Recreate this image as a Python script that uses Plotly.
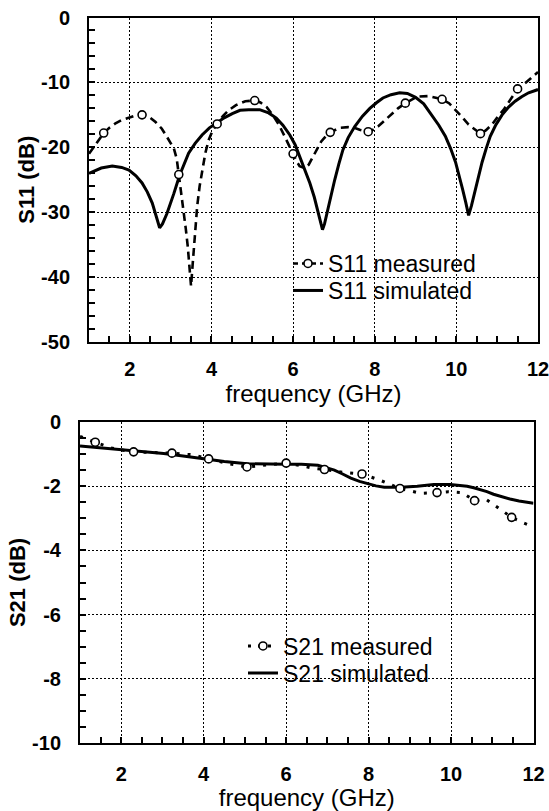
import plotly.graph_objects as go

# ---------------- data ----------------
# S11 simulated
s11_sim_f = [1.0, 1.3, 1.57, 1.8, 1.98, 2.15, 2.30, 2.43, 2.55, 2.65, 2.73, 2.80, 2.91, 3.08, 3.22,
             3.44, 3.6, 3.77, 3.95, 4.14, 4.3, 4.51, 4.7, 4.91, 5.18, 5.4, 5.59, 5.75, 5.92, 6.05,
             6.16, 6.29, 6.41, 6.52, 6.61, 6.68, 6.72, 6.77, 6.83, 6.92, 7.02, 7.12, 7.22, 7.35,
             7.51, 7.7, 7.88, 8.05, 8.20, 8.4, 8.61, 8.8, 9.0, 9.2, 9.40, 9.57, 9.73, 9.86, 9.98,
             10.07, 10.15, 10.23, 10.30, 10.37, 10.45, 10.54, 10.63, 10.73, 10.83, 10.97, 11.12,
             11.28, 11.44, 11.6, 11.77, 12.0]
s11_sim_db = [-24.0, -23.2, -22.9, -23.1, -23.5, -24.4, -25.5, -26.9, -28.6, -30.8, -32.4, -31.8,
              -30.2, -27.1, -24.3, -20.9, -19.4, -18.1, -17.0, -16.2, -15.5, -14.8, -14.3, -14.2,
              -14.2, -14.7, -15.5, -16.6, -18.1, -19.6, -21.4, -23.4, -25.5, -27.7, -30.1, -32.0,
              -32.7, -31.8, -30.1, -27.6, -25.0, -22.6, -20.4, -18.5, -16.8, -15.2, -14.0, -13.1,
              -12.4, -11.9, -11.6, -11.7, -12.3, -13.3, -15.0, -16.6, -18.3, -20.2, -22.3, -24.3,
              -26.4, -28.5, -30.5, -29.0, -26.9, -24.6, -22.3, -20.2, -18.3, -16.5, -15.0, -13.8,
              -12.9, -12.2, -11.6, -11.1]

# S11 measured (curve)
s11_meas_f = [1.0, 1.12, 1.24, 1.36, 1.5, 1.65, 1.8, 1.98, 2.15, 2.30, 2.47, 2.63, 2.78, 2.91, 3.0,
              3.08, 3.15, 3.20, 3.26, 3.32, 3.37, 3.42, 3.46, 3.50, 3.54, 3.57, 3.61, 3.65, 3.71,
              3.77, 3.85, 3.93, 4.03, 4.14, 4.28, 4.42, 4.6, 4.83, 5.06, 5.2, 5.35, 5.5, 5.65, 5.8,
              5.9, 6.0, 6.08, 6.16, 6.29, 6.38, 6.49, 6.59, 6.69, 6.80, 6.91, 7.14, 7.35, 7.50,
              7.63, 7.84, 7.96, 8.08, 8.2, 8.33, 8.45, 8.57, 8.75, 9.04, 9.32, 9.65, 9.82, 9.98,
              10.15, 10.30, 10.45, 10.59, 10.72, 10.87, 11.0, 11.16, 11.33, 11.50, 11.69, 11.85, 12.0]
s11_meas_db = [-21.0, -19.9, -18.9, -17.8, -17.0, -16.3, -15.8, -15.4, -15.1, -15.0, -15.3, -16.1,
               -17.1, -18.4, -19.3, -20.2, -21.8, -24.2, -26.8, -29.6, -32.5, -35.3, -38.0, -41.4,
               -38.0, -35.3, -32.0, -29.1, -26.0, -23.5, -20.9, -18.9, -17.4, -16.4, -15.2, -14.3,
               -13.5, -12.9, -12.8, -13.1, -13.8, -15.0, -16.5, -18.4, -19.8, -21.0, -22.1, -22.9,
               -23.2, -22.7, -21.4, -20.2, -19.1, -18.3, -17.7, -17.0, -16.9, -17.0, -17.3, -17.6,
               -17.3, -16.8, -16.1, -15.5, -14.8, -14.0, -13.2, -12.2, -12.1, -12.6, -13.2, -14.2,
               -15.4, -16.5, -17.3, -17.9, -17.4, -16.5, -15.4, -14.2, -12.6, -11.0, -10.1, -9.2, -8.4]

# S11 measured (circle markers)
s11_mark_f = [1.36, 2.30, 3.20, 4.14, 5.06, 6.0, 6.91, 7.84, 8.75, 9.65, 10.59, 11.50]
s11_mark_db = [-17.8, -15.0, -24.2, -16.4, -12.8, -21.0, -17.7, -17.6, -13.2, -12.6, -17.9, -11.0]

# S21 simulated
s21_sim_f = [1.0, 1.5, 2.0, 2.5, 3.03, 3.5, 4.0, 4.5, 5.05, 5.5, 6.0, 6.37, 6.77, 6.97, 7.17, 7.37,
             7.57, 7.78, 7.98, 8.18, 8.38, 8.78, 9.18, 9.58, 9.98, 10.2, 10.39, 10.55, 10.71, 10.87,
             11.03, 11.23, 11.43, 11.65, 11.91, 12.0]
s21_sim_db = [-0.75, -0.81, -0.88, -0.93, -0.98, -1.06, -1.15, -1.23, -1.30, -1.32, -1.32, -1.32,
              -1.35, -1.42, -1.50, -1.62, -1.75, -1.85, -1.93, -1.99, -2.03, -2.03, -2.00, -1.95,
              -1.95, -1.97, -2.00, -2.05, -2.10, -2.17, -2.25, -2.33, -2.40, -2.46, -2.50, -2.53]

# S21 measured (curve)
s21_meas_f = [1.0, 1.37, 1.73, 2.0, 2.30, 2.75, 3.23, 3.72, 4.12, 4.6, 5.05, 5.55, 6.0, 6.35, 6.69,
              6.93, 7.4, 7.84, 8.27, 8.76, 9.26, 9.66, 9.94, 10.27, 10.57, 10.84, 11.16, 11.47, 11.77,
              11.9]
s21_meas_db = [-0.45, -0.63, -0.80, -0.87, -0.93, -0.95, -0.97, -1.02, -1.15, -1.30, -1.40, -1.33,
               -1.28, -1.36, -1.45, -1.48, -1.57, -1.62, -1.81, -2.07, -2.22, -2.20, -2.17, -2.20,
               -2.45, -2.40, -2.70, -2.97, -3.15, -3.22]

# S21 measured (circle markers)
s21_mark_f = [1.37, 2.30, 3.23, 4.12, 5.05, 6.0, 6.93, 7.84, 8.76, 9.66, 10.57, 11.47]
s21_mark_db = [-0.63, -0.93, -0.97, -1.15, -1.40, -1.28, -1.48, -1.62, -2.07, -2.20, -2.45, -2.97]

x_ticks = [2, 4, 6, 8, 10, 12]
x_tick_labels = ["2", "4", "6", "8", "10", "12"]
s11_ticks = [0, -10, -20, -30, -40, -50]
s11_tick_labels = ["0", "-10", "-20", "-30", "-40", "-50"]
s21_ticks = [0, -2, -4, -6, -8, -10]
s21_tick_labels = ["0", "-2", "-4", "-6", "-8", "-10"]

# ---------------- figure ----------------
W, H = 549, 811
FONT = "Liberation Sans, Arial, Helvetica, sans-serif"
BLACK = "#000000"

fig = go.Figure()

meas_dash = "8px,5px"
dot_dash = "3px,8px"
marker_style = dict(symbol="circle", size=8, color="white", line=dict(color=BLACK, width=1.6))

# top panel
fig.add_trace(go.Scatter(x=s11_sim_f, y=s11_sim_db, mode="lines", xaxis="x", yaxis="y",
                         line=dict(color=BLACK, width=3), showlegend=False, hoverinfo="skip"))
fig.add_trace(go.Scatter(x=s11_meas_f, y=s11_meas_db, mode="lines", xaxis="x", yaxis="y",
                         line=dict(color=BLACK, width=2.6, dash=meas_dash),
                         showlegend=False, hoverinfo="skip"))
fig.add_trace(go.Scatter(x=s11_mark_f, y=s11_mark_db, mode="markers", xaxis="x", yaxis="y",
                         marker=marker_style, showlegend=False))
# legend entries (top)
fig.add_trace(go.Scatter(x=[None], y=[None], mode="lines+markers", xaxis="x", yaxis="y",
                         name="S11 measured", legend="legend",
                         line=dict(color=BLACK, width=2.6, dash="5px,4px"), marker=marker_style))
fig.add_trace(go.Scatter(x=[None], y=[None], mode="lines", xaxis="x", yaxis="y",
                         name="S11 simulated", legend="legend2",
                         line=dict(color=BLACK, width=3)))

# bottom panel
fig.add_trace(go.Scatter(x=s21_sim_f, y=s21_sim_db, mode="lines", xaxis="x2", yaxis="y2",
                         line=dict(color=BLACK, width=3), showlegend=False, hoverinfo="skip"))
fig.add_trace(go.Scatter(x=s21_meas_f, y=s21_meas_db, mode="lines", xaxis="x2", yaxis="y2",
                         line=dict(color=BLACK, width=3, dash=dot_dash),
                         showlegend=False, hoverinfo="skip"))
fig.add_trace(go.Scatter(x=s21_mark_f, y=s21_mark_db, mode="markers", xaxis="x2", yaxis="y2",
                         marker=marker_style, showlegend=False))
fig.add_trace(go.Scatter(x=[None], y=[None], mode="lines+markers", xaxis="x2", yaxis="y2",
                         name="S21 measured", legend="legend3",
                         line=dict(color=BLACK, width=3, dash="3px,7px"), marker=marker_style))
fig.add_trace(go.Scatter(x=[None], y=[None], mode="lines", xaxis="x2", yaxis="y2",
                         name="S21 simulated", legend="legend4",
                         line=dict(color=BLACK, width=3)))

tick_font = dict(family=FONT, size=20, color=BLACK, weight="bold")
title_font = dict(family=FONT, size=24, color=BLACK)


def xaxis_cfg(domain, anchor, lab_off, title_off):
    return dict(domain=domain, anchor=anchor, range=[1, 12],
                tickmode="array", tickvals=x_ticks, ticktext=x_tick_labels,
                ticks="inside", ticklen=6, tickwidth=1.5, tickcolor=BLACK,
                showline=True, linewidth=2, linecolor=BLACK, mirror=True,
                showgrid=True, gridcolor=BLACK, gridwidth=1, griddash="2px,2px",
                zeroline=False, tickfont=tick_font, ticklabelstandoff=lab_off,
                ticklabeloverflow="allow", automargin=False,
                minor=dict(dtick=0.5, tick0=1, ticks="inside", ticklen=6, tickwidth=1.5,
                           tickcolor=BLACK, showgrid=False),
                title=dict(text="frequency (GHz)", font=title_font, standoff=title_off))


def yaxis_cfg(domain, anchor, rng, ticks, labels, minor_dt, title):
    return dict(domain=domain, anchor=anchor, range=rng,
                tickmode="array", tickvals=ticks, ticktext=labels,
                ticks="inside", ticklen=6, tickwidth=1.5, tickcolor=BLACK,
                showline=True, linewidth=2, linecolor=BLACK, mirror=True,
                showgrid=True, gridcolor=BLACK, gridwidth=1, griddash="2px,2px",
                zeroline=False, tickfont=tick_font, ticklabelstandoff=13,
                ticklabeloverflow="allow", automargin=False,
                minor=dict(dtick=minor_dt, ticks="inside", ticklen=6, tickwidth=1.5,
                           tickcolor=BLACK, showgrid=False),
                title=dict(text=title, font=dict(family=FONT, size=22, color=BLACK, weight="bold"),
                           standoff=0))


top_x = [89 / W, 538 / W]
top_y = [1 - 342 / H, 1 - 17.5 / H]
bot_x = [80 / W, 533.5 / W]
bot_y = [1 - 743 / H, 1 - 422 / H]

leg_font = dict(family=FONT, size=23, color=BLACK)


def leg(xpx, ypx):
    return dict(x=xpx / W, y=1 - ypx / H, xanchor="left", yanchor="middle",
                bgcolor="rgba(0,0,0,0)", borderwidth=0, font=leg_font,
                itemclick=False, itemdoubleclick=False)


fig.update_layout(
    width=W, height=H, autosize=False,
    margin=dict(l=0, r=0, t=0, b=0, autoexpand=False),
    paper_bgcolor="white", plot_bgcolor="white",
    font=dict(family=FONT, color=BLACK),
    xaxis=xaxis_cfg(top_x, "y", 8, 2),
    yaxis=yaxis_cfg(top_y, "x", [-50, 0], s11_ticks, s11_tick_labels, 2, "S11 (dB)"),
    xaxis2=xaxis_cfg(bot_x, "y2", 12, 3),
    yaxis2=yaxis_cfg(bot_y, "x2", [-10, 0], s21_ticks, s21_tick_labels, 0.5, "S21 (dB)"),
    legend=leg(288, 263.5),
    legend2=leg(288, 290.5),
    legend3=leg(243, 646),
    legend4=leg(243, 673),
)

fig.write_html("out.html", config={"displayModeBar": False},
               post_script="document.body.style.margin='0px';document.body.style.overflow='hidden';")
